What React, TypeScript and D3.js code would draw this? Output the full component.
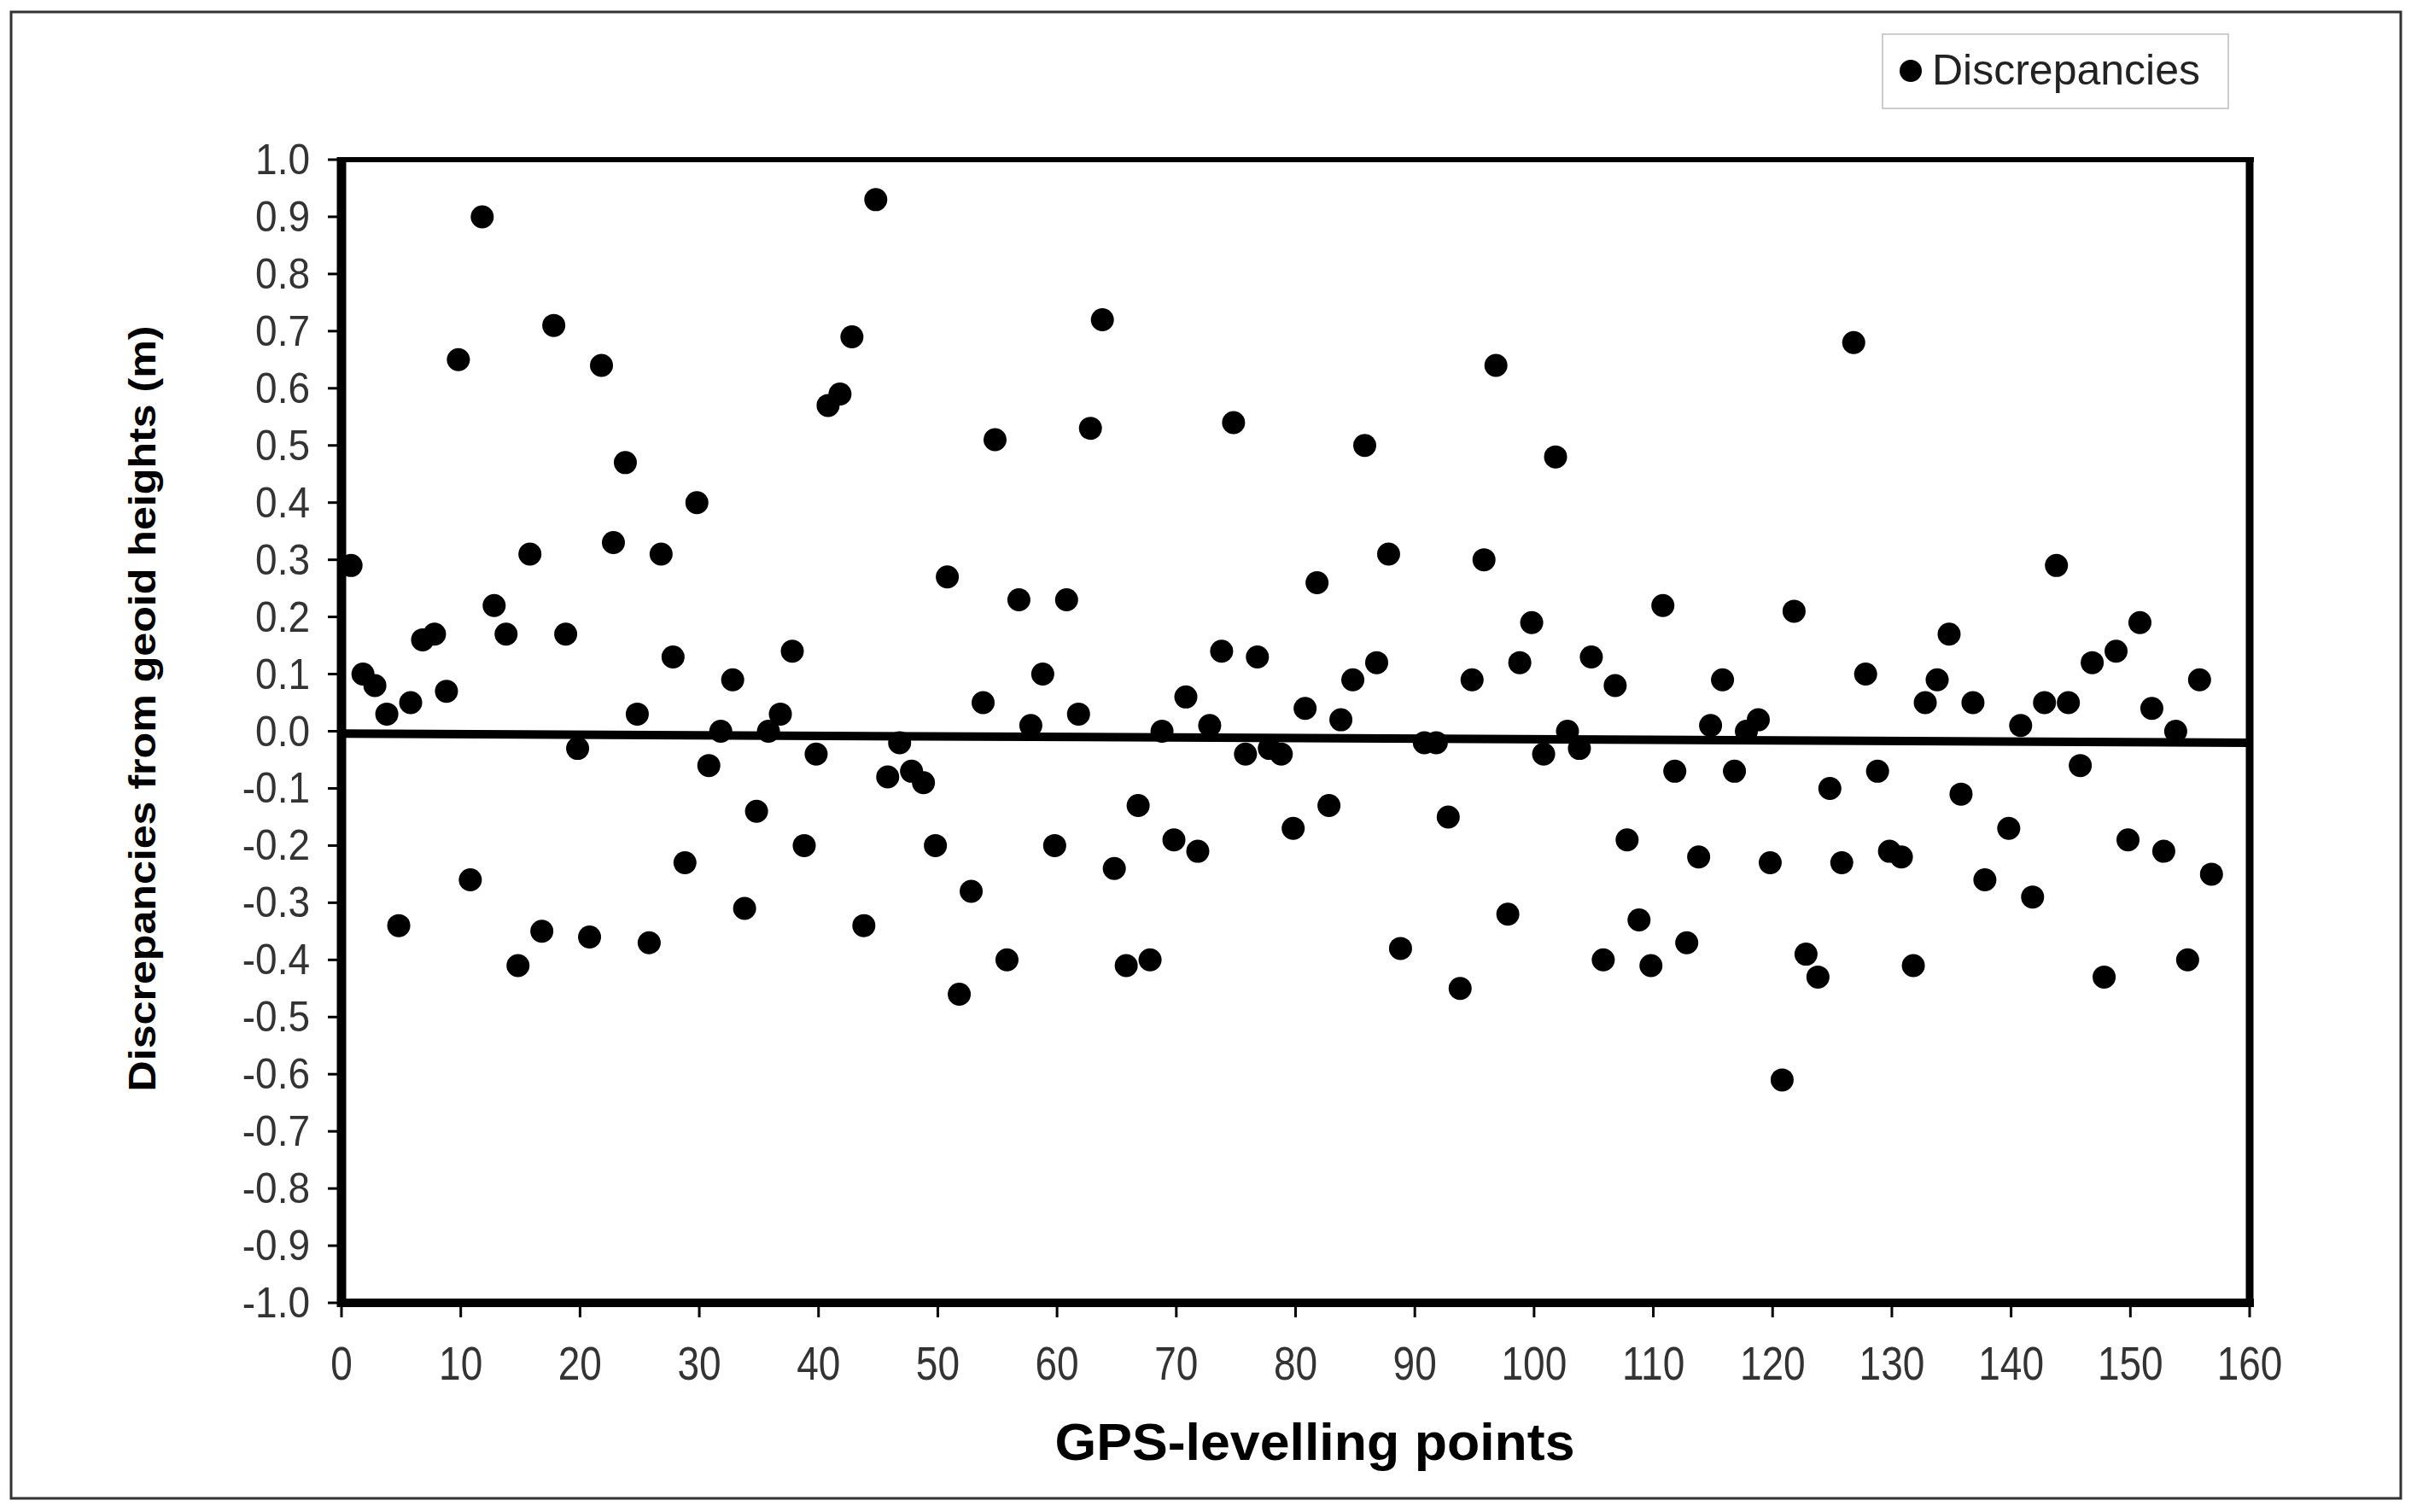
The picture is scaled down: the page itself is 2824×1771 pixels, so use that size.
import React from "react";
import * as d3 from "d3";

const pointIds: number[] = [
  1, 2, 3, 4, 5, 6, 7, 8, 9, 10, 11, 12, 13, 14, 15, 16, 17, 18, 19, 20,
  21, 22, 23, 24, 25, 26, 27, 28, 29, 30, 31, 32, 33, 34, 35, 36, 37, 38, 39, 40,
  41, 42, 43, 44, 45, 46, 47, 48, 49, 50, 51, 52, 53, 54, 55, 56, 57, 58, 59, 60,
  61, 62, 63, 64, 65, 66, 67, 68, 69, 70, 71, 72, 73, 74, 75, 76, 77, 78, 79, 80,
  81, 82, 83, 84, 85, 86, 87, 88, 89, 91, 92, 93, 94, 95, 96, 97, 98, 99, 100,
  101, 102, 103, 104, 105, 106, 107, 108, 109, 110, 111, 112, 113, 114, 115, 116, 117, 118, 119, 120,
  121, 122, 123, 124, 125, 126, 127, 128, 129, 130, 131, 132, 133, 134, 135, 136, 137, 138, 140,
  141, 142, 143, 144, 145, 146, 147, 148, 149, 150, 151, 152, 153, 154, 155, 156, 157,
];

const discrepancies: number[] = [
  0.29, 0.10, 0.08, 0.03, -0.34, 0.05, 0.16, 0.17, 0.07, 0.65, -0.26, 0.90, 0.22, 0.17, -0.41, 0.31, -0.35, 0.71, 0.17, -0.03,
  -0.36, 0.64, 0.33, 0.47, 0.03, -0.37, 0.31, 0.13, -0.23, 0.40, -0.06, 0.00, 0.09, -0.31, -0.14, 0.00, 0.03, 0.14, -0.20, -0.04,
  0.57, 0.59, 0.69, -0.34, 0.93, -0.08, -0.02, -0.07, -0.09, -0.20, 0.27, -0.46, -0.28, 0.05, 0.51, -0.40, 0.23, 0.01, 0.10, -0.20,
  0.23, 0.03, 0.53, 0.72, -0.24, -0.41, -0.13, -0.40, 0.00, -0.19, 0.06, -0.21, 0.01, 0.14, 0.54, -0.04, 0.13, -0.03, -0.04, -0.17,
  0.04, 0.26, -0.13, 0.02, 0.09, 0.50, 0.12, 0.31, -0.38, -0.02, -0.02, -0.15, -0.45, 0.09, 0.30, 0.64, -0.32, 0.12, 0.19,
  -0.04, 0.48, 0.00, -0.03, 0.13, -0.40, 0.08, -0.19, -0.33, -0.41, 0.22, -0.07, -0.37, -0.22, 0.01, 0.09, -0.07, 0.00, 0.02, -0.23,
  -0.61, 0.21, -0.39, -0.43, -0.10, -0.23, 0.68, 0.10, -0.07, -0.21, -0.22, -0.41, 0.05, 0.09, 0.17, -0.11, 0.05, -0.26, -0.17,
  0.01, -0.29, 0.05, 0.29, 0.05, -0.06, 0.12, -0.43, 0.14, -0.19, 0.19, 0.04, -0.21, 0.00, -0.40, 0.09, -0.25,
];

const trendX: number[] = [0, 160];
const trendY: number[] = [-0.004, -0.02];

const xTickValues: number[] = [0, 10, 20, 30, 40, 50, 60, 70, 80, 90, 100, 110, 120, 130, 140, 150, 160];
const yTickValues: number[] = [1.0, 0.9, 0.8, 0.7, 0.6, 0.5, 0.4, 0.3, 0.2, 0.1, 0.0, -0.1, -0.2, -0.3, -0.4, -0.5, -0.6, -0.7, -0.8, -0.9, -1.0];
const yTickLabels: string[] = yTickValues.map((v) => v.toFixed(1).replace("-0.0", "0.0"));

const seriesName = "Discrepancies";
const xTitle = "GPS-levelling points";
const yTitle = "Discrepancies from geoid heights (m)";

const W = 2824;
const H = 1771;
const FONT = "'Liberation Sans', Arial, Helvetica, sans-serif";

export default function App() {
  const x = d3.scaleLinear().domain([0, 160]).range([400, 2635]);
  const y = d3.scaleLinear().domain([-1, 1]).range([1526, 187]);
  const line = d3
    .line<number>()
    .x((_, i) => x(trendX[i]))
    .y((d) => y(d));

  const [x0, x1] = x.range();
  const [yb, yt] = y.range();

  return (
    <svg
      width={W}
      height={H}
      viewBox={`0 0 ${W} ${H}`}
      style={{ position: "absolute", left: 0, top: 0, background: "#fff" }}
    >
      <rect x={0} y={0} width={W} height={H} fill="#fff" />
      {/* outer frame */}
      <rect x={13} y={14} width={2799} height={1741} fill="none" stroke="#333" strokeWidth={3} />

      {/* legend */}
      <rect x={2205} y={40} width={405} height={87} fill="#fff" stroke="#ccc" strokeWidth={2} />
      <circle cx={2238} cy={83} r={13} fill="#000" />
      <text x={2263} y={99} fontFamily={FONT} fontSize={50} fill="#222">
        {seriesName}
      </text>

      {/* y ticks and labels */}
      {yTickValues.map((v, i) => (
        <g key={`y${i}`}>
          <line x1={384} x2={400} y1={y(v)} y2={y(v)} stroke="#000" strokeWidth={3} />
          <text
            transform={`translate(363, ${y(v) + 17}) scale(1, 1.1)`}
            textAnchor="end"
            fontFamily={FONT}
            fontSize={46}
            fill="#333"
          >
            {yTickLabels[i]}
          </text>
        </g>
      ))}

      {/* x ticks and labels */}
      {xTickValues.map((v) => (
        <g key={`x${v}`}>
          <line x1={x(v)} x2={x(v)} y1={yb} y2={yb + 17} stroke="#000" strokeWidth={3} />
          <text
            transform={`translate(${x(v)}, 1616) scale(1, 1.22)`}
            textAnchor="middle"
            fontFamily={FONT}
            fontSize={46}
            fill="#333"
          >
            {v}
          </text>
        </g>
      ))}

      {/* plot frame */}
      <line x1={x0 - 5} x2={x1 + 5} y1={yt} y2={yt} stroke="#000" strokeWidth={6} />
      <line x1={x0 - 5} x2={x1 + 5} y1={yb} y2={yb} stroke="#000" strokeWidth={10} />
      <line x1={x0} x2={x0} y1={yt - 3} y2={yb + 5} stroke="#000" strokeWidth={11} />
      <line x1={x1} x2={x1} y1={yt - 3} y2={yb + 5} stroke="#000" strokeWidth={9} />

      {/* trend line */}
      <path d={line(trendY) || ""} fill="none" stroke="#000" strokeWidth={10} />

      {/* points */}
      {pointIds.map((id, i) => (
        <circle key={`p${id}`} cx={x(id - 0.2)} cy={y(discrepancies[i])} r={13.5} fill="#000" />
      ))}

      {/* axis titles */}
      <text
        x={1540}
        y={1710}
        textAnchor="middle"
        fontFamily={FONT}
        fontWeight="bold"
        fontSize={62}
        textLength={609}
        lengthAdjust="spacingAndGlyphs"
        fill="#000"
      >
        {xTitle}
      </text>
      <text
        transform={`translate(182, 830) rotate(-90)`}
        textAnchor="middle"
        fontFamily={FONT}
        fontWeight="bold"
        fontSize={44}
        textLength={897}
        lengthAdjust="spacingAndGlyphs"
        fill="#000"
      >
        {yTitle}
      </text>
    </svg>
  );
}
